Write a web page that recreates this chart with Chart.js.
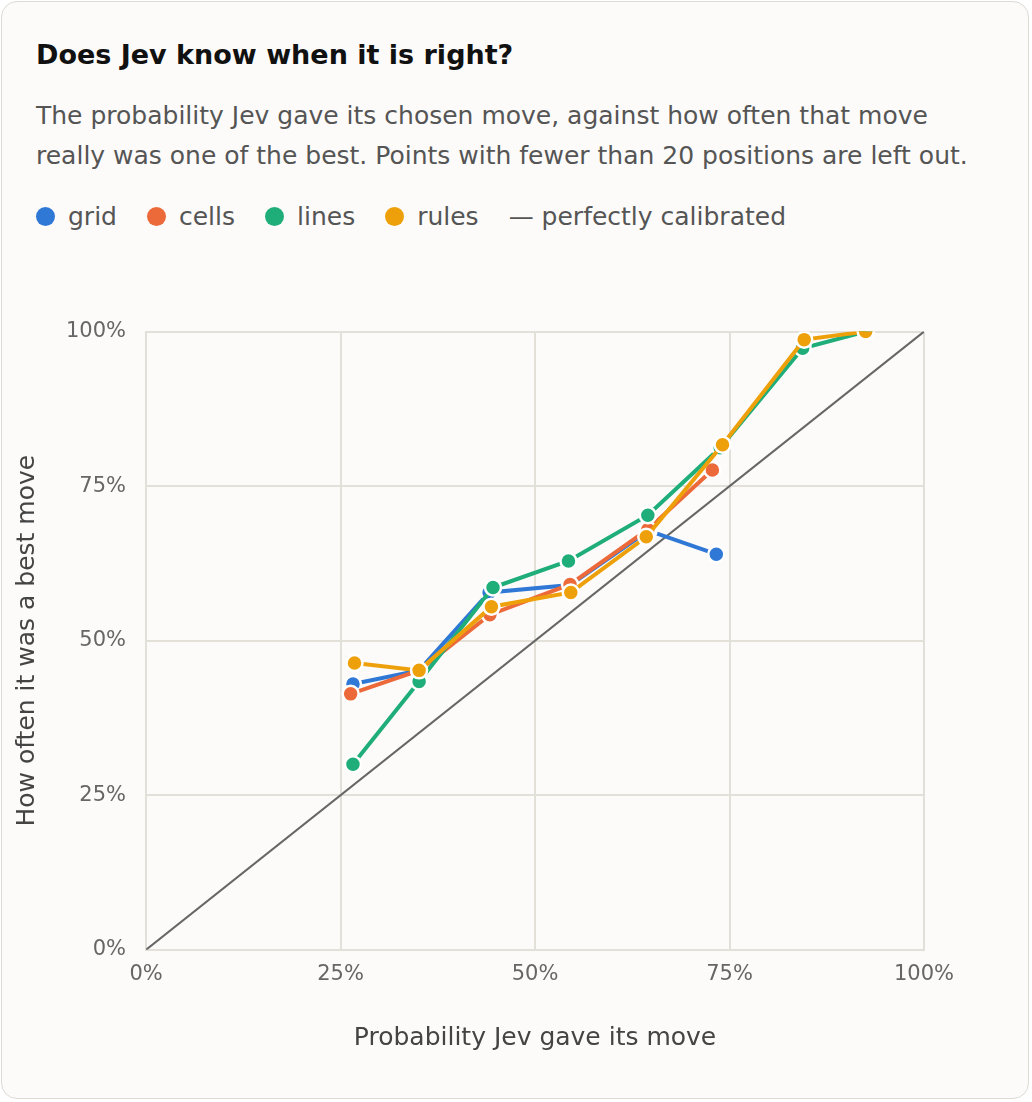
<!DOCTYPE html>
<html>
<head>
<meta charset="utf-8">
<script src="https://cdn.jsdelivr.net/npm/chart.js@4"></script>
<style>
  body { margin: 0; background: #fff; font-family: "DejaVu Sans", sans-serif; }
  .card { position: absolute; left: 1px; top: 1px; width: 1028px; height: 1098px; box-sizing: border-box;
    border: 1.5px solid #dcdad4; border-radius: 16px; background: #fcfbf9; padding: 0 34px; }
  h1 { font-size: 27px; margin: 37px 0 0; color: #111; }
  p { font-size: 25px; line-height: 40px; color: #555; margin: 26px 0 0; }
  .legend { margin-top: 26px; font-size: 25px; color: #555; display: flex; gap: 30px; align-items: center; }
  .legend span.dot { display: inline-block; width: 19px; height: 19px; border-radius: 50%; margin-right: 13px; vertical-align: -1px; }
  #wrap { position: absolute; left: 6px; top: 297px; width: 990px; height: 758px; }
</style>
</head>
<body>
<div class="card">
  <h1>Does Jev know when it is right?</h1>
  <p>The probability Jev gave its chosen move, against how often that move really was one of the best. Points with fewer than 20 positions are left out.</p>
  <div class="legend">
    <div><span class="dot" style="background:#2f78d6"></span>grid</div>
    <div><span class="dot" style="background:#ec6a3a"></span>cells</div>
    <div><span class="dot" style="background:#1fae7a"></span>lines</div>
    <div><span class="dot" style="background:#eea00a"></span>rules</div>
    <div>— perfectly calibrated</div>
  </div>
  <div id="wrap"><canvas id="c"></canvas></div>
</div>
<script>
const gridX  = [26.6, 35.1, 44.1, 54.5, 64.6, 73.3];
const gridY  = [43.0, 45.2, 57.8, 59.0, 67.8, 64.0];
const cellsX = [26.3, 35.1, 44.2, 54.5, 64.5, 72.8];
const cellsY = [41.4, 45.2, 54.2, 59.1, 68.0, 77.6];
const linesX = [26.6, 35.1, 44.6, 54.3, 64.5, 73.8, 84.4, 92.5];
const linesY = [30.0, 43.4, 58.6, 62.9, 70.3, 81.2, 97.3, 100];
const rulesX = [26.8, 35.1, 44.4, 54.6, 64.3, 74.1, 84.6, 92.5];
const rulesY = [46.4, 45.2, 55.5, 57.8, 66.8, 81.7, 98.7, 100];
const ticks = [0, 25, 50, 75, 100];

const pts = (xs, ys) => xs.map((x, i) => ({ x, y: ys[i] }));
const series = (label, xs, ys, color, order) => ({
  label, data: pts(xs, ys), borderColor: color, backgroundColor: color, borderWidth: 4,
  pointRadius: 8, pointBorderColor: '#fff', pointBorderWidth: 2.5, pointHoverRadius: 8, order
});

new Chart(document.getElementById('c'), {
  type: 'line',
  data: {
    datasets: [
      { label: 'perfectly calibrated', data: [{ x: 0, y: 0 }, { x: 100, y: 100 }], borderColor: '#666',
        borderWidth: 2, pointRadius: 0, order: 5 },
      series('grid', gridX, gridY, '#2f78d6', 4),
      series('cells', cellsX, cellsY, '#ec6a3a', 3),
      series('lines', linesX, linesY, '#1fae7a', 2),
      series('rules', rulesX, rulesY, '#eea00a', 1),
    ]
  },
  options: {
    responsive: true, maintainAspectRatio: false, animation: false,
    layout: { padding: { right: 74, top: 14 } },
    plugins: { legend: { display: false }, tooltip: { enabled: false } },
    scales: {
      x: {
        type: 'linear', min: 0, max: 100,
        afterBuildTicks: a => { a.ticks = ticks.map(v => ({ value: v })); },
        ticks: { callback: v => v + '%', color: '#666', font: { size: 21, family: 'DejaVu Sans' }, padding: 12 },
        grid: { color: '#e2e0d9', lineWidth: 2, drawTicks: false },
        border: { color: '#e2e0d9', width: 2 },
        title: { display: true, text: 'Probability Jev gave its move', color: '#444', font: { size: 25, family: 'DejaVu Sans' }, padding: { top: 24 } }
      },
      y: {
        min: 0, max: 100,
        afterBuildTicks: a => { a.ticks = ticks.map(v => ({ value: v })); },
        ticks: { callback: v => v + '%', color: '#666', font: { size: 21, family: 'DejaVu Sans' }, padding: 20 },
        grid: { color: '#e2e0d9', lineWidth: 2, drawTicks: false },
        border: { color: '#e2e0d9', width: 2 },
        title: { display: true, text: 'How often it was a best move', color: '#444', font: { size: 25, family: 'DejaVu Sans' }, padding: { bottom: 4 } }
      }
    }
  }
});
</script>
</body>
</html>
